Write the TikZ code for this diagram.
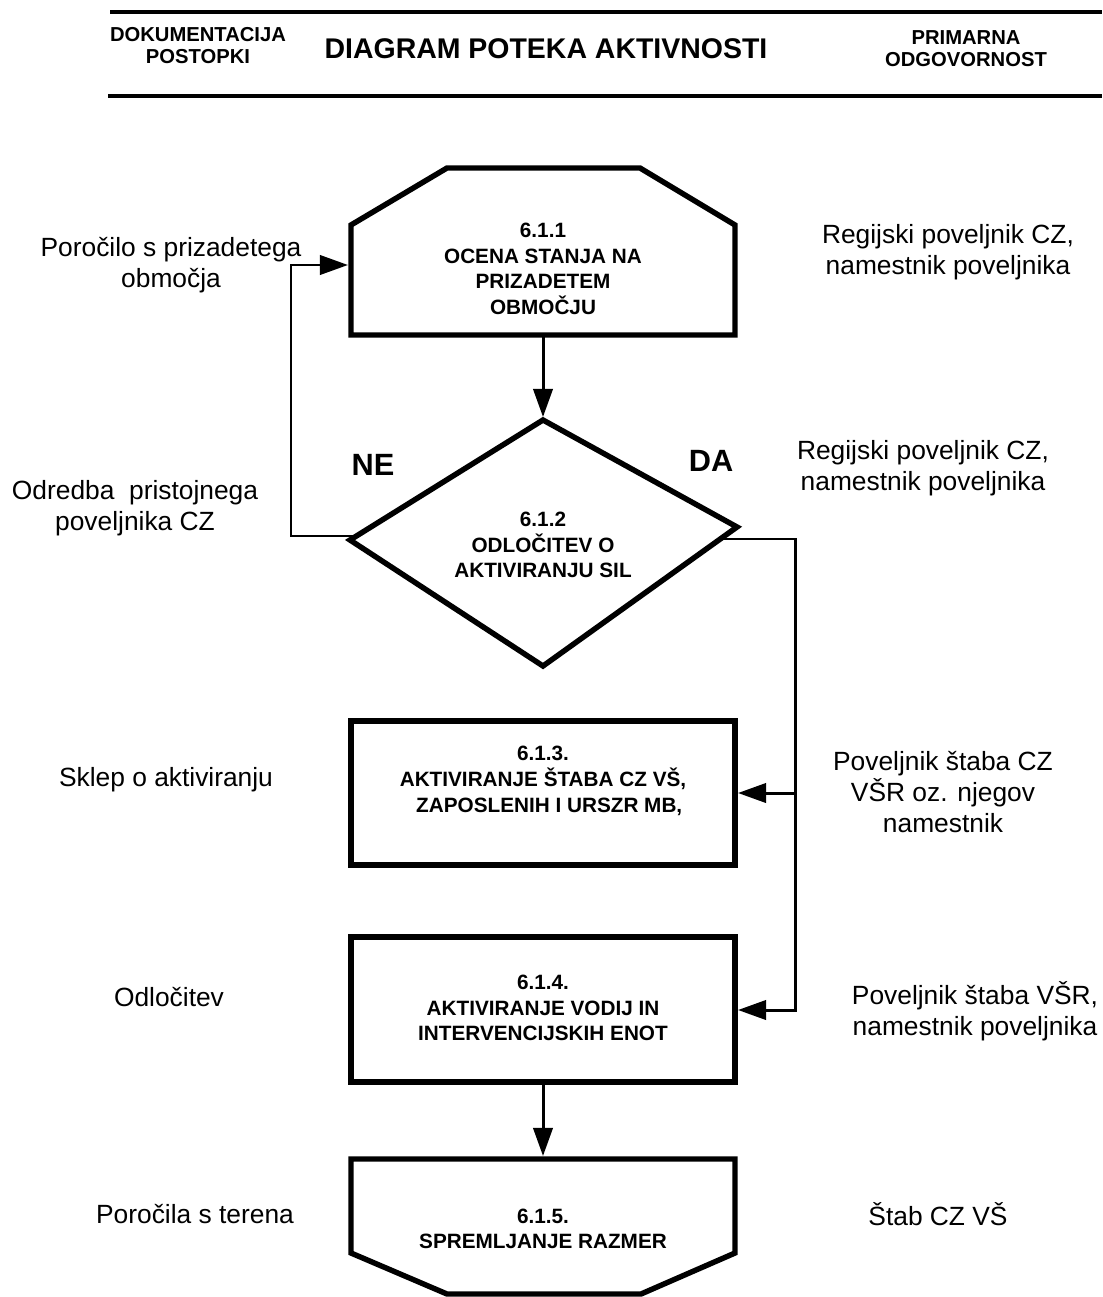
\documentclass[tikz,border=0pt]{standalone}
\usepackage{fontspec}
\setmainfont{Liberation Sans}
\usetikzlibrary{arrows.meta}

\begin{document}
\begin{tikzpicture}[x=0.02cm, y=-0.02cm,
  boxline/.style={line width=3.1pt, line join=miter},
  link/.style={line width=1.7pt},
  linkarrow/.style={link, -{Triangle[length=16pt, width=11pt]}},
  boxtext/.style={font=\fontsize{11.8}{14.6}\selectfont\bfseries, align=center, inner sep=0pt},
  sidetext/.style={font=\fontsize{15}{17.5}\selectfont, align=center, inner sep=0pt},
  headtext/.style={font=\fontsize{11.5}{12.5}\selectfont\bfseries, align=center, inner sep=0pt},
  branchtext/.style={font=\fontsize{17.5}{20}\selectfont\bfseries, inner sep=0pt}]
\useasboundingbox (0,0) rectangle (1102,1297);

% header
\draw[line width=2.3pt] (110,12) -- (1102,12);
\draw[line width=2.3pt] (108,96) -- (1102,96);
\node[headtext] (doc) at (198,46) {DOKUMENTACIJA\\POSTOPKI};
\node[font=\fontsize{16.2}{18}\selectfont\bfseries, inner sep=0pt] (title) at (546,49) {DIAGRAM POTEKA AKTIVNOSTI};
\node[headtext] (resp) at (966,49) {PRIMARNA\\ODGOVORNOST};

% shapes
\draw[boxline] (351,335) -- (351,225) -- (447,168) -- (640,168) -- (735,225) -- (735,335) -- cycle;
\draw[boxline] (543,420) -- (737,527) -- (543,666) -- (350,540) -- cycle;
\draw[boxline] (351,721) rectangle (735,865);
\draw[boxline] (351,937) rectangle (735,1082);
\draw[boxline] (351,1159) -- (735,1159) -- (735,1253) -- (641,1294) -- (447,1294) -- (351,1253) -- cycle;

\coordinate (ocenaS) at (543,335);
\coordinate (ocenaW) at (348,265);
\coordinate (odlN) at (543,417);
\coordinate (odlW) at (355,536);
\coordinate (odlE) at (720,539);
\coordinate (stabE) at (738,793);
\coordinate (vodijE) at (738,1010);
\coordinate (vodijS) at (543,1082);
\coordinate (razmerN) at (543,1156);
\coordinate (neBend) at (291,536);
\coordinate (daBend) at (795,539);
\coordinate (daSplit) at (795,793);

\node[boxtext] (ocena) at (543,269) {6.1.1\\OCENA STANJA NA\\PRIZADETEM\\OBMOČJU};
\node[boxtext] (odl) at (543,545) {6.1.2\\ODLOČITEV O\\AKTIVIRANJU SIL};
\node[boxtext] (stab) at (543,781) {6.1.3.\\AKTIVIRANJE ŠTABA CZ VŠ,\\\hspace*{0.6em}ZAPOSLENIH I URSZR MB,};
\node[boxtext] (vodij) at (543,1008) {6.1.4.\\AKTIVIRANJE VODIJ IN\\INTERVENCIJSKIH ENOT};
\node[boxtext] (razmer) at (543,1229) {6.1.5.\\SPREMLJANJE RAZMER};

\node[branchtext] (ne) at (373,465) {NE};
\node[branchtext] (da) at (711,461) {DA};

% connectors
\draw[linkarrow] (ocenaS) -- (odlN);
\draw[linkarrow] (odlW) -- (neBend) |- (ocenaW);
\draw[link] (odlE) -- (daBend) -- (daSplit);
\draw[linkarrow] (daSplit) -- (stabE);
\draw[linkarrow] (daSplit) |- (vodijE);
\draw[linkarrow] (vodijS) -- (razmerN);

% left column
\node[sidetext] (porocilo) at (171,265) {Poročilo s prizadetega\\območja};
\node[sidetext] (odredba) at (135,508) {Odredba~ pristojnega\\poveljnika CZ};
\node[sidetext] (sklep) at (166,780) {Sklep o aktiviranju};
\node[sidetext] (odlocitev) at (169,997) {Odločitev};
\node[sidetext] (teren) at (195,1214) {Poročila s terena};

% right column
\node[sidetext] (resp1) at (948,252) {Regijski poveljnik CZ,\\namestnik poveljnika};
\node[sidetext] (resp2) at (923,468) {Regijski poveljnik CZ,\\namestnik poveljnika};
\node[sidetext] (resp3) at (943,792) {Poveljnik štaba CZ\\VŠR oz. njegov\\namestnik};
\node[sidetext] (resp4) at (975,1011) {Poveljnik štaba VŠR,\\namestnik poveljnika};
\node[sidetext] (resp5) at (938,1214) {Štab CZ VŠ};
\end{tikzpicture}
\end{document}
